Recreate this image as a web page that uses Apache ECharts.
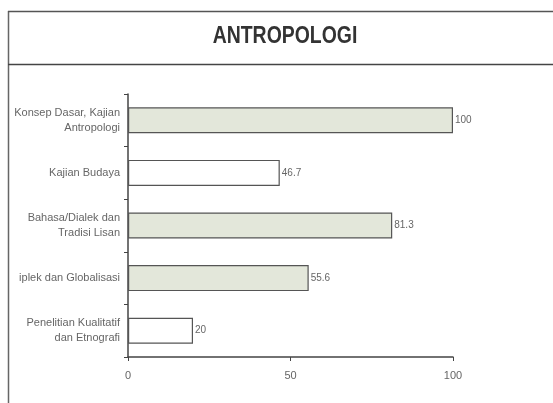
<!DOCTYPE html>
<html><head><meta charset="utf-8">
<script src="https://cdn.jsdelivr.net/npm/echarts@6/dist/echarts.min.js"></script>
<style>html,body{margin:0;padding:0;background:#fff}#c{width:553px;height:403px}</style>
</head><body><div id="c"></div>
<script>
var categories = ["Konsep Dasar, Kajian\nAntropologi", "Kajian Budaya", "Bahasa/Dialek dan\nTradisi Lisan", "iplek dan Globalisasi", "Penelitian Kualitatif\ndan Etnografi"];
var values = [100, 46.7, 81.3, 55.6, 20];
var valueTicks = [0, 50, 100];
var shaded = [true, false, true, true, false];

var chart = echarts.init(document.getElementById('c'));
chart.setOption({
  animation: false,
  backgroundColor: '#fff',
  graphic: [
    {type: 'line', shape: {x1: 8.5, y1: 11, x2: 8.5, y2: 403}, style: {stroke: '#666', lineWidth: 1.5}},
    {type: 'line', shape: {x1: 8, y1: 11.5, x2: 553, y2: 11.5}, style: {stroke: '#555', lineWidth: 1.5}},
    {type: 'line', shape: {x1: 8, y1: 64.5, x2: 553, y2: 64.5}, style: {stroke: '#444', lineWidth: 1.5}},
    {type: 'text', x: 285, y: 36, scaleX: 0.81, style: {text: 'ANTROPOLOGI', font: 'bold 24px "Liberation Sans", Arial, sans-serif', fill: '#333', align: 'center', verticalAlign: 'middle'}}
  ],
  grid: {left: 128, right: 100, top: 94, bottom: 46},
  xAxis: {
    type: 'value', min: valueTicks[0], max: valueTicks[valueTicks.length - 1], interval: 50,
    splitLine: {show: false},
    axisLine: {show: true, lineStyle: {color: '#444', width: 1.5}},
    axisTick: {show: true, length: 4, lineStyle: {color: '#444'}},
    axisLabel: {color: '#666', fontSize: 11, fontFamily: 'Liberation Sans', margin: 13}
  },
  yAxis: {
    type: 'category', data: categories, inverse: true,
    axisLine: {show: true, lineStyle: {color: '#444', width: 1.5}},
    axisTick: {show: true, length: 4, lineStyle: {color: '#444'}},
    axisLabel: {color: '#666', fontSize: 11, fontFamily: 'Liberation Sans', margin: 8, lineHeight: 15, align: 'right'}
  },
  series: [{
    type: 'bar', data: values, barWidth: 26,
    itemStyle: {
      color: function (p) { return shaded[p.dataIndex] ? '#e3e7da' : '#ffffff'; },
      borderColor: '#555', borderWidth: 1.2
    },
    label: {show: true, position: 'right', distance: 2, color: '#666', fontSize: 10, fontFamily: 'Liberation Sans'}
  }]
});
</script></body></html>
